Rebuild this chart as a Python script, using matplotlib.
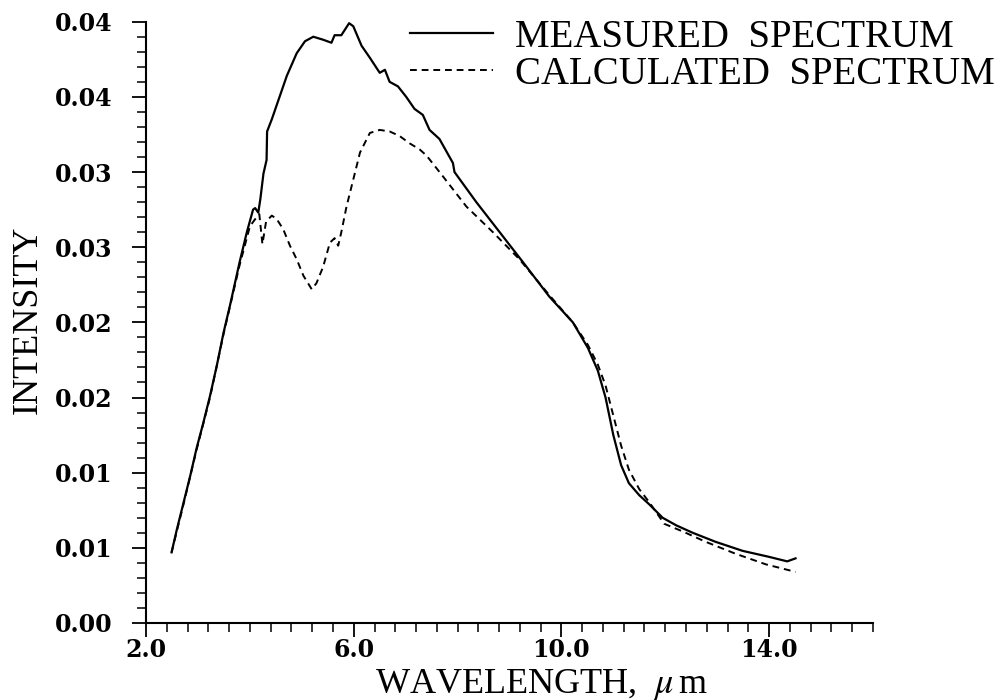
import numpy as np
import matplotlib
matplotlib.use('Agg')
import matplotlib.pyplot as plt
from matplotlib.ticker import MultipleLocator, FixedLocator, FixedFormatter

plt.rcParams['mathtext.fontset'] = 'stix'

# measured spectrum (wavelength um, intensity)
meas_x = [2.49, 2.59, 2.72, 2.85, 2.97, 3.10, 3.23, 3.36, 3.49, 3.62, 3.80, 3.94,
          4.06, 4.10, 4.16, 4.20, 4.26, 4.32, 4.33, 4.42, 4.55, 4.71, 4.90, 5.06,
          5.22, 5.41, 5.57, 5.63, 5.76, 5.91, 5.99, 6.15, 6.31, 6.50, 6.60, 6.69,
          6.85, 7.01, 7.17, 7.33, 7.46, 7.65, 7.91, 7.94, 8.36, 8.81, 9.26, 9.77,
          10.22, 10.51, 10.70, 10.85, 11.00, 11.15, 11.30, 11.50, 11.69, 11.95,
          12.21, 12.53, 12.97, 13.49, 14.00, 14.35, 14.51]
meas_y = [0.0047, 0.0062, 0.0080, 0.0098, 0.0116, 0.0133, 0.0151, 0.0171, 0.0193,
          0.0212, 0.0240, 0.0260, 0.0275, 0.0276, 0.0273, 0.0282, 0.0299, 0.0308,
          0.0327, 0.0335, 0.0348, 0.0364, 0.0379, 0.0387, 0.0390, 0.0388, 0.0386,
          0.0391, 0.0391, 0.0399, 0.0397, 0.0384, 0.0376, 0.0366, 0.0368, 0.0360,
          0.0357, 0.0350, 0.0342, 0.0338, 0.0328, 0.0322, 0.0306, 0.0300, 0.0280,
          0.0260, 0.0240, 0.0217, 0.0200, 0.0183, 0.0168, 0.0150, 0.0125, 0.0105,
          0.0093, 0.0085, 0.0079, 0.0070, 0.0065, 0.0060, 0.0054, 0.0048, 0.0044,
          0.0041, 0.0043]

# calculated spectrum
calc_x = [2.49, 2.72, 2.97, 3.23, 3.49, 3.80, 4.00, 4.13, 4.18, 4.24, 4.31, 4.42,
          4.51, 4.64, 4.77, 4.90, 5.03, 5.19, 5.28, 5.41, 5.54, 5.63, 5.70, 5.76,
          5.86, 5.99, 6.12, 6.31, 6.50, 6.69, 6.88, 7.08, 7.27, 7.40, 7.72, 8.17,
          8.68, 9.19, 9.77, 10.22, 10.51, 10.70, 10.85, 11.00, 11.15, 11.30, 11.50,
          11.70, 11.98, 12.33, 12.78, 13.36, 13.94, 14.51]
calc_y = [0.0047, 0.0079, 0.0115, 0.0150, 0.0192, 0.0238, 0.0264, 0.0270, 0.0272,
          0.0252, 0.0267, 0.0271, 0.0269, 0.0262, 0.0251, 0.0242, 0.0231, 0.0222,
          0.0226, 0.0237, 0.0253, 0.0256, 0.0251, 0.0260, 0.0277, 0.0295, 0.0313,
          0.0326, 0.0328, 0.0327, 0.0324, 0.0319, 0.0315, 0.0311, 0.0297, 0.0277,
          0.0260, 0.0242, 0.0218, 0.0200, 0.0185, 0.0172, 0.0158, 0.0138, 0.0118,
          0.0102, 0.0089, 0.0080, 0.0066, 0.0061, 0.0054, 0.0046, 0.0039, 0.0034]

# axis ticks (labels as printed on the original, rounded to 2 places)
xticks = [2.0, 6.0, 10.0, 14.0]
xtick_labels = ['2.0', '6.0', '10.0', '14.0']
yticks = [0.0, 0.005, 0.010, 0.015, 0.020, 0.025, 0.030, 0.035, 0.040]
ytick_labels = ['0.00', '0.01', '0.01', '0.02', '0.02', '0.03', '0.03', '0.04', '0.04']

fig = plt.figure(figsize=(10.01, 7.0), dpi=100)
ax = fig.add_axes([0.146, 0.11, 0.726, 0.859])

ax.plot(meas_x, meas_y, color='black', lw=1.6, label='MEASURED  SPECTRUM')
ax.plot(calc_x, calc_y, color='black', lw=1.4, dashes=(3.5, 2.5),
        label='CALCULATED  SPECTRUM')

ax.set_xlim(2.0, 16.0)
ax.set_ylim(0.0, 0.04)
ax.xaxis.set_major_locator(FixedLocator(xticks))
ax.xaxis.set_major_formatter(FixedFormatter(xtick_labels))
ax.xaxis.set_minor_locator(MultipleLocator(0.4))
ax.yaxis.set_major_locator(FixedLocator(yticks))
ax.yaxis.set_major_formatter(FixedFormatter(ytick_labels))
ax.yaxis.set_minor_locator(MultipleLocator(0.001))

for s in ['top', 'right']:
    ax.spines[s].set_visible(False)
for s in ['left', 'bottom']:
    ax.spines[s].set_linewidth(1.5)

ax.tick_params(which='major', direction='out', length=10, width=1.3)
ax.tick_params(which='minor', direction='out', length=6.5, width=1.1)
ax.tick_params(axis='y', which='major', pad=14)
ax.tick_params(axis='x', which='major', pad=1)
for lab in ax.get_xticklabels() + ax.get_yticklabels():
    lab.set_fontfamily('DejaVu Serif')
    lab.set_fontweight('bold')
    lab.set_fontsize(17)

fig.text(0.028, 0.543, 'INTENSITY', rotation=90, ha='center', va='center',
         family='Liberation Serif', fontsize=26)
fig.text(0.541, 0.01, r'WAVELENGTH,  $\mu\,$m', ha='center', va='baseline',
         family='Liberation Serif', fontsize=26)

leg = ax.legend(loc='upper left', bbox_to_anchor=(0.41, 0.973),
                bbox_transform=fig.transFigure, frameon=False, borderpad=0,
                borderaxespad=0, handlelength=2.12, handletextpad=0.58,
                labelspacing=0.0,
                prop={'family': 'Liberation Serif', 'size': 28})

fig.savefig('out.png', dpi=100)
